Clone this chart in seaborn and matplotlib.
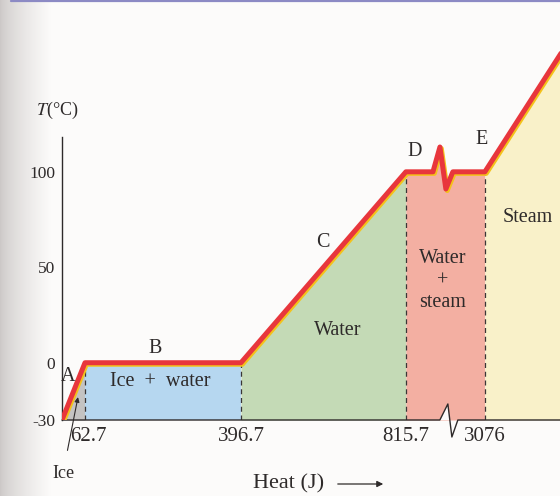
import numpy as np
import matplotlib
matplotlib.use("Agg")
import matplotlib.pyplot as plt
import matplotlib.patheffects as pe
import matplotlib.transforms as mtransforms
from matplotlib.lines import Line2D
import seaborn as sns
import pandas as pd

# heating curve of 1 g of ice (heat in J, temperature in degC)
heat_pts = [0, 62.7, 396.7, 815.7, 1590, 1790, 1960, 2160, 3076, 3300]
temp_pts = [-30, 0, 0, 100, 100, 113, 91, 100, 100, 175]

# phase boundaries shown on the x axis
tick_heat = [62.7, 396.7, 815.7, 3076]
tick_text = ["62.7", "396.7", "815.7", "3076"]
boundary_top = [0, 0, 100, 100]

y_ticks = [-30, 0, 50, 100]
y_text = ["-30", "0", "50", "100"]

# broken axis: heat -> drawing position (piecewise, schematic figure)
scale_heat = [-1e4, 0, 62.7, 396.7, 815.7, 3076, 3300, 1e5]
scale_pos = [-3670, 0, 23, 179, 344, 423, 515, 515 + (1e5 - 3300) * 0.4107]

# zigzag break mark on the heat axis
axis_break_heat = [0, 1788, 2017, 2132, 2303, 3259]
axis_break_temp = [-30, -30, -21.6, -38.9, -30, -30]

regions = {
    "ice": ([0, 62.7], "#c4c3c2"),
    "ice_water": ([62.7, 396.7], "#b6d7f0"),
    "water": ([396.7, 815.7], "#c4dab6"),
    "water_steam": ([815.7, 3076], "#f3afa2"),
    "steam": ([3076, 3300], "#f9f1c9"),
}


def forward(x):
    return np.interp(x, scale_heat, scale_pos)


def inverse(p):
    return np.interp(p, scale_pos, scale_heat)


sns.set_theme(style="white")
plt.rcParams["font.family"] = ["Liberation Serif", "DejaVu Serif"]
ink = "#2e2a2a"

fig = plt.figure(figsize=(5.6, 4.96), dpi=100, facecolor="#fcfbfa")

# grey page gutter on the left
gut = fig.add_axes([0, 0, 0.09, 1], zorder=-5)
g = np.linspace(0, 1, 60) ** 0.7
shade = np.array([0.80, 0.785, 0.78])[None, :] * (1 - g[:, None]) + np.array([0.988, 0.984, 0.98])[None, :] * g[:, None]
gut.imshow(shade[None, :, :], aspect="auto", extent=(0, 1, 0, 1))
gut.axis("off")

ax = fig.add_axes([62 / 560, 76 / 496, 498 / 560, 420 / 496])
ax.set_facecolor("none")
ax.set_xscale("function", functions=(forward, inverse))
ax.set_xlim(0, 3259)
ax.set_ylim(-30, 190)

df = pd.DataFrame({"heat": heat_pts, "temp": temp_pts})

# coloured phase regions under the curve
for name, (span, colour) in regions.items():
    m = (df["heat"] >= span[0]) & (df["heat"] <= span[1])
    sub = df[m]
    if name == "ice_water":
        ax.fill_between(span, -30, 0, color=colour, lw=0, zorder=1)
    else:
        ax.fill_between(sub["heat"], -30, sub["temp"], color=colour, lw=0, zorder=1)

ax.vlines(tick_heat, -30, boundary_top, colors="#3a3636", linestyles=(0, (4, 3)), lw=0.9, zorder=2)

sns.lineplot(data=df, x="heat", y="temp", sort=False, estimator=None, ax=ax,
             color="#e8363c", lw=3.6, zorder=5, clip_on=True,
             path_effects=[pe.Stroke(linewidth=3.6, foreground="#f4c21a", offset=(1.0, -1.1)), pe.Normal()])

# heat axis with break mark
ax.fill([1788, 2017, 2080], [-30, -21.6, -30], color="#fcfbfa", lw=0, zorder=3)
ax.plot(axis_break_heat, axis_break_temp, color=ink, lw=1.0, clip_on=False, zorder=4)

for s in ["top", "right", "bottom"]:
    ax.spines[s].set_visible(False)
ax.spines["left"].set_bounds(-30, 118)
ax.spines["left"].set_color(ink)
ax.spines["left"].set_linewidth(1.0)

ax.set_yticks(y_ticks, y_text)
ax.set_xticks(tick_heat, tick_text)
ax.minorticks_off()
ax.tick_params(axis="y", direction="inout", length=8, width=0.9, color=ink, labelsize=12.5,
               labelcolor=ink, pad=1)
ax.tick_params(axis="x", length=0, labelsize=15, labelcolor=ink, pad=5)
ax.set_xlabel("")
ax.set_ylabel("")
# first heat label sits just right of its dashed line
first = ax.get_xticklabels()[0]
first.set_transform(first.get_transform() + mtransforms.ScaledTranslation(3 / 100, 0, fig.dpi_scale_trans))

txt = dict(color=ink, fontsize=14.5, ha="center", va="center", zorder=6)
ax.text(16, -7, "A", **txt)
ax.text(213, 7.7, "B", **txt)
ax.text(605, 63, "C", **txt)
ax.text(1073, 110.4, "D", **txt)
ax.text(2990, 116.7, "E", **txt)
ax.text(223, -10, "Ice  +  water", **txt)
ax.text(643, 17, "Water", **txt)
ax.text(1874, 43, "Water\n+\nsteam", linespacing=1.2, **txt)
ax.text(3181, 76, "Steam", **txt)

ax.annotate("Ice", xy=(43.6, -18), xytext=(2.7, -57.8), color=ink, fontsize=13,
            ha="center", va="center", annotation_clip=False,
            arrowprops=dict(arrowstyle="-|>", lw=0.8, color=ink, shrinkA=8, shrinkB=0,
                            mutation_scale=7))

ax.text(-0.01, 132.4, "$T$(°C)", transform=ax.get_yaxis_transform(), color=ink,
        fontsize=13, ha="center", va="center", math_fontfamily="stix")

fig.text(289 / 560, 1 - 484 / 496, "Heat (J)", color=ink, fontsize=16, ha="center", va="center")
fig.add_artist(matplotlib.patches.FancyArrowPatch((335 / 560, 1 - 484 / 496), (386 / 560, 1 - 484 / 496),
               transform=fig.transFigure, arrowstyle="-|>", mutation_scale=9, lw=0.9, color=ink))

# blue rule along the top edge of the page
fig.add_artist(Line2D([0.02, 1], [0.997, 0.997], transform=fig.transFigure, color="#8c8ac4", lw=1.6))

fig.savefig("out.png", dpi=100, facecolor=fig.get_facecolor())
